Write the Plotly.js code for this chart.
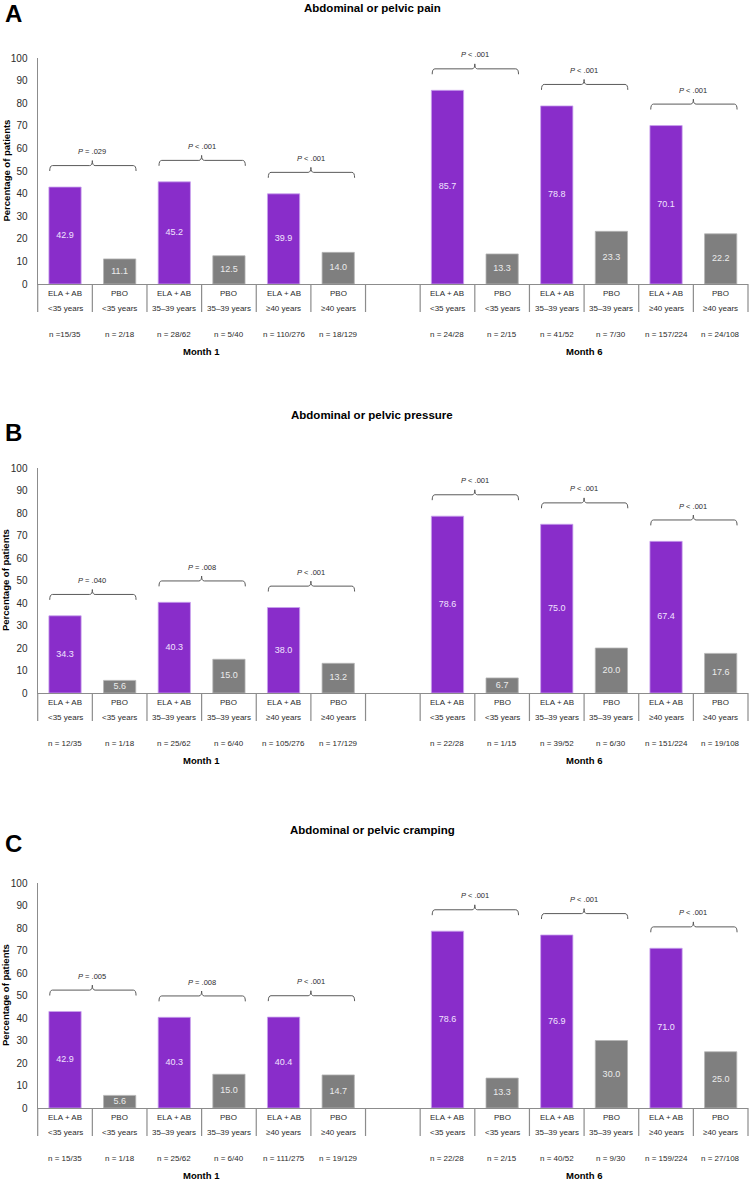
<!DOCTYPE html>
<html>
<head>
<meta charset="utf-8">
<script src="https://cdn.plot.ly/plotly-3.0.1.min.js"></script>
<style>html,body{margin:0;padding:0;background:#fff;}#chart{width:749px;height:1181px;}</style>
</head>
<body>
<div id="chart"></div>
<script>
// ---------------- DATA ----------------
const panelTitles = ['Abdominal or pelvic pain', 'Abdominal or pelvic pressure', 'Abdominal or pelvic cramping'];
const panelLetters = ['A', 'B', 'C'];
const treatments = ['ELA + AB', 'PBO'];
const ageGroups = ['&lt;35 years', '35–39 years', '≥40 years'];
const months = ['Month 1', 'Month 6'];
const yTitle = 'Percentage of patients';
const yTicks = [0, 10, 20, 30, 40, 50, 60, 70, 80, 90, 100];

// order: Month 1 (<35, 35–39, ≥40), Month 6 (<35, 35–39, ≥40)
const painEla = [42.9, 45.2, 39.9, 85.7, 78.8, 70.1];
const painPbo = [11.1, 12.5, 14.0, 13.3, 23.3, 22.2];
const painNEla = ['n =15/35', 'n = 28/62', 'n = 110/276', 'n = 24/28', 'n = 41/52', 'n = 157/224'];
const painNPbo = ['n = 2/18', 'n = 5/40', 'n = 18/129', 'n = 2/15', 'n = 7/30', 'n = 24/108'];
const painP = ['= .029', '&lt; .001', '&lt; .001', '&lt; .001', '&lt; .001', '&lt; .001'];

const pressureEla = [34.3, 40.3, 38.0, 78.6, 75.0, 67.4];
const pressurePbo = [5.6, 15.0, 13.2, 6.7, 20.0, 17.6];
const pressureNEla = ['n = 12/35', 'n = 25/62', 'n = 105/276', 'n = 22/28', 'n = 39/52', 'n = 151/224'];
const pressureNPbo = ['n = 1/18', 'n = 6/40', 'n = 17/129', 'n = 1/15', 'n = 6/30', 'n = 19/108'];
const pressureP = ['= .040', '= .008', '&lt; .001', '&lt; .001', '&lt; .001', '&lt; .001'];

const crampEla = [42.9, 40.3, 40.4, 78.6, 76.9, 71.0];
const crampPbo = [5.6, 15.0, 14.7, 13.3, 30.0, 25.0];
const crampNEla = ['n = 15/35', 'n = 25/62', 'n = 111/275', 'n = 22/28', 'n = 40/52', 'n = 159/224'];
const crampNPbo = ['n = 1/18', 'n = 6/40', 'n = 19/129', 'n = 2/15', 'n = 9/30', 'n = 27/108'];
const crampP = ['= .005', '= .008', '&lt; .001', '&lt; .001', '&lt; .001', '&lt; .001'];

const panelsData = [
  {ela: painEla, pbo: painPbo, nEla: painNEla, nPbo: painNPbo, p: painP},
  {ela: pressureEla, pbo: pressurePbo, nEla: pressureNEla, nPbo: pressureNPbo, p: pressureP},
  {ela: crampEla, pbo: crampPbo, nEla: crampNEla, nPbo: crampNPbo, p: crampP}
];

// ---------------- LAYOUT GEOMETRY (pixels) ----------------
const W = 749, H = 1181;
const X0 = 37.7, X1 = 748;
const NSLOT = 13;
const slotW = (X1 - X0) / NSLOT;
const geom = [
  {top: 58, bottom: 284, title: 8, letter: 13},
  {top: 468, bottom: 693, title: 415, letter: 432},
  {top: 883, bottom: 1108, title: 830, letter: 843}
];
const py = p => 1 - p / H;
const pxSlotBoundary = k => (X0 + k * slotW) / W;

const FONT = 'Arial, "Liberation Sans", sans-serif';
const PURPLE = '#892dca';
const GREY = '#7f7f7f';
const AXIS = '#8c8c8c';
const TXT = '#2b2b2b';

const slotOf = (g, t) => Math.floor(g / 3) * 7 + (g % 3) * 2 + t;

const traces = [];
const annotations = [];
const shapes = [];
const layout = {
  width: W, height: H,
  margin: {l: 0, r: 0, t: 0, b: 0},
  paper_bgcolor: '#fff', plot_bgcolor: '#fff',
  showlegend: false,
  barmode: 'overlay',
  font: {family: FONT, color: TXT},
  annotations: annotations,
  shapes: shapes
};

panelsData.forEach((d, pi) => {
  const g = geom[pi];
  const sfx = pi === 0 ? '' : String(pi + 1);
  const xa = 'x' + sfx, ya = 'y' + sfx;
  // paper y of a data value in this panel (for labels that may sit above the axis range)
  const vToPaper = v => py(g.bottom - v * (g.bottom - g.top) / 100);
  layout['xaxis' + sfx] = {
    domain: [X0 / W, X1 / W], range: [-0.5, NSLOT - 0.5], anchor: ya,
    showticklabels: false, ticks: '', showgrid: false, zeroline: false,
    showline: true, linecolor: AXIS, linewidth: 1.2, fixedrange: true
  };
  layout['yaxis' + sfx] = {
    domain: [py(g.bottom), py(g.top)], range: [0, 100], anchor: xa,
    tickvals: yTicks, ticks: '', ticklabelstandoff: 7,
    tickfont: {family: FONT, size: 10, color: TXT},
    showgrid: false, zeroline: false,
    showline: true, linecolor: AXIS, linewidth: 1.2, fixedrange: true
  };

  const xsE = d.ela.map((v, i) => slotOf(i, 0));
  const xsP = d.pbo.map((v, i) => slotOf(i, 1));
  traces.push({type: 'bar', x: xsE, y: d.ela, width: 0.59, xaxis: xa, yaxis: ya,
    marker: {color: PURPLE, line: {color: '#c9a3ee', width: 0.8}}, hoverinfo: 'skip'});
  traces.push({type: 'bar', x: xsP, y: d.pbo, width: 0.59, xaxis: xa, yaxis: ya,
    marker: {color: GREY, line: {color: '#b5b5b5', width: 0.8}}, hoverinfo: 'skip'});
  traces.push({type: 'scatter', mode: 'text', x: xsE, y: d.ela.map(v => v / 2),
    text: d.ela.map(v => v.toFixed(1)), textfont: {family: FONT, size: 9, color: '#f1e4ff'},
    xaxis: xa, yaxis: ya, cliponaxis: false, hoverinfo: 'skip'});
  traces.push({type: 'scatter', mode: 'text', x: xsP, y: d.pbo.map(v => v / 2),
    text: d.pbo.map(v => v.toFixed(1)), textfont: {family: FONT, size: 9, color: '#ececec'},
    xaxis: xa, yaxis: ya, cliponaxis: false, hoverinfo: 'skip'});

  // title and letter
  annotations.push({xref: 'paper', yref: 'paper', x: 372 / W, y: py(g.title), text: '<b>' + panelTitles[pi] + '</b>',
    showarrow: false, xanchor: 'center', yanchor: 'middle', font: {family: FONT, size: 11.5, color: '#000'}});
  annotations.push({xref: 'paper', yref: 'paper', x: 3 / W, y: py(g.letter), text: '<b>' + panelLetters[pi] + '</b>',
    showarrow: false, xanchor: 'left', yanchor: 'middle', font: {family: FONT, size: 24, color: '#000'}});
  // y title
  annotations.push({xref: 'paper', yref: 'paper', x: 5.5 / W, y: py((g.top + g.bottom) / 2), text: '<b>' + yTitle + '</b>',
    textangle: -90, showarrow: false, xanchor: 'center', yanchor: 'middle', font: {family: FONT, size: 9.5, color: '#000'}});

  // category labels, n labels
  for (let i = 0; i < 6; i++) {
    for (let t = 0; t < 2; t++) {
      const s = slotOf(i, t);
      annotations.push({xref: xa, yref: 'paper', x: s, y: py(g.bottom + 9.5), text: treatments[t],
        showarrow: false, xanchor: 'center', yanchor: 'middle', font: {family: FONT, size: 8, color: TXT}});
      annotations.push({xref: xa, yref: 'paper', x: s, y: py(g.bottom + 24), text: ageGroups[i % 3],
        showarrow: false, xanchor: 'center', yanchor: 'middle', font: {family: FONT, size: 8, color: TXT}});
      annotations.push({xref: xa, yref: 'paper', x: s, y: py(g.bottom + 50), text: t === 0 ? d.nEla[i] : d.nPbo[i],
        showarrow: false, xanchor: 'center', yanchor: 'middle', font: {family: FONT, size: 8, color: TXT}});
    }
    // bracket
    const xL = slotOf(i, 0) - 0.28, xR = slotOf(i, 1) + 0.3, xc = (slotOf(i, 0) + slotOf(i, 1)) / 2;
    const yl = d.ela[i] + 9.5, dn = 2.4, up = 2.2, r = 0.05;
    const path = `M ${xL},${yl - dn} Q ${xL},${yl} ${xL + r},${yl} L ${xc - r},${yl} Q ${xc},${yl} ${xc},${yl + up} ` +
      `Q ${xc},${yl} ${xc + r},${yl} L ${xR - r},${yl} Q ${xR},${yl} ${xR},${yl - dn}`;
    shapes.push({type: 'path', xref: xa, yref: ya, path: path, line: {color: '#5a5a5a', width: 1}});
    annotations.push({xref: xa, yref: 'paper', x: xc, y: vToPaper(yl + 6.2), text: '<i>P</i> ' + d.p[i],
      showarrow: false, xanchor: 'center', yanchor: 'middle', font: {family: FONT, size: 7.5, color: TXT}});
  }
  // month labels
  months.forEach((m, mi) => {
    annotations.push({xref: xa, yref: 'paper', x: mi * 7 + 2.5, y: py(g.bottom + 67.5), text: '<b>' + m + '</b>',
      showarrow: false, xanchor: 'center', yanchor: 'middle', font: {family: FONT, size: 9.5, color: '#000'}});
  });
  // separators below axis
  for (let k = 0; k <= NSLOT; k++) {
    shapes.push({type: 'line', xref: 'paper', yref: 'paper', x0: pxSlotBoundary(k), x1: pxSlotBoundary(k),
      y0: py(g.bottom), y1: py(g.bottom + 28), line: {color: AXIS, width: 1.2}});
  }
});

Plotly.newPlot('chart', traces, layout, {staticPlot: true, displayModeBar: false});
</script>
</body>
</html>
